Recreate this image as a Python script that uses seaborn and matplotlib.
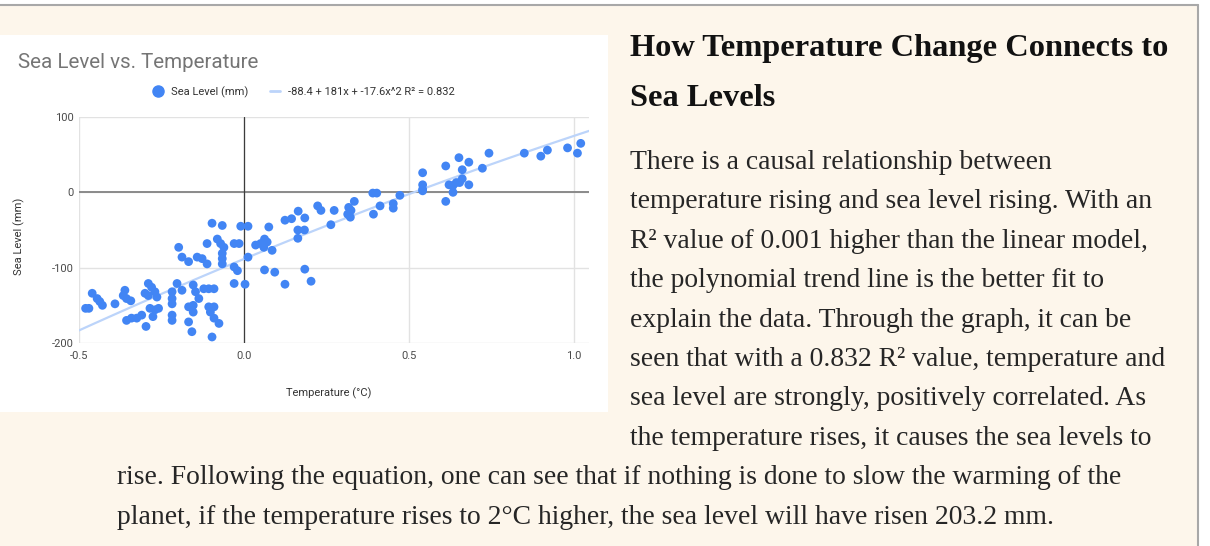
"""Sea level vs temperature: chart card with text column"""
import numpy as np
import pandas as pd
import seaborn as sns
import matplotlib.pyplot as plt
from matplotlib.lines import Line2D
from matplotlib.patches import Rectangle

W, H = 1210, 546
CREAM, BORDER = '#fdf6eb', '#a8a8a8'
BLUE, LINE_BLUE = '#4285f4', '#bcd4fa'
GRID, TICK = '#e2e2e2', '#4a4a4a'

# data
temp = [-0.480, -0.470, -0.460, -0.445, -0.437, -0.429, -0.391, -0.361, -0.366, -0.356,
        -0.343, -0.356, -0.341, -0.325, -0.310, -0.297, -0.290, -0.280, -0.270, -0.264,
        -0.300, -0.290, -0.285, -0.270, -0.259, -0.276, -0.218, -0.218, -0.218, -0.218,
        -0.218, -0.198, -0.188, -0.168, -0.203, -0.188, -0.154, -0.147, -0.137, -0.154,
        -0.168, -0.154, -0.168, -0.158, -0.142, -0.127, -0.112, -0.112, -0.122, -0.107,
        -0.091, -0.107, -0.091, -0.102, -0.091, -0.076, -0.097, -0.097, -0.066, -0.081,
        -0.071, -0.061, -0.066, -0.066, -0.066, -0.030, -0.015, -0.030, -0.020, -0.030,
        -0.010, 0.012, 0.012, 0.003, 0.035, 0.050, 0.062, 0.060, 0.070, 0.085,
        0.075, 0.062, 0.093, 0.124, 0.144, 0.124, 0.164, 0.184, 0.163, 0.183,
        0.163, 0.184, 0.203, 0.223, 0.233, 0.273, 0.263, 0.314, 0.324, 0.334,
        0.322, 0.317, 0.390, 0.402, 0.392, 0.412, 0.452, 0.452, 0.472, 0.541,
        0.541, 0.541, 0.541, 0.611, 0.611, 0.621, 0.633, 0.643, 0.653, 0.661,
        0.633, 0.651, 0.661, 0.681, 0.681, 0.722, 0.742, 0.849, 0.899, 0.919,
        0.980, 1.010, 1.020]
sea = [-154, -154, -134, -141, -145, -150, -148, -130, -137, -141,
       -144, -170, -167, -167, -163, -178, -121, -126, -132, -139,
       -134, -137, -154, -156, -154, -165, -132, -141, -148, -163,
       -170, -73, -86, -92, -121, -130, -123, -132, -141, -150,
       -152, -159, -172, -185, -86, -88, -95, -68, -128, -128,
       -128, -152, -152, -159, -167, -174, -192, -41, -44, -62,
       -68, -73, -81, -88, -95, -68, -68, -99, -104, -121,
       -45, -45, -86, -122, -70, -68, -62, -73, -66, -77,
       -46, -103, -106, -37, -35, -122, -25, -34, -50, -50,
       -61, -102, -118, -18, -24, -24, -43, -29, -24, -12,
       -33, -20, -1, -1, -29, -18, -15, -21, -4, 26,
       10, 4, 2, 35, -12, 10, 9, 13, 13, 18,
       0, 46, 30, 40, 10, 32, 52, 52, 48, 56,
       59, 52, 65]
trend_coef = [-88.4, 181, -17.6]          # c0 + c1 x + c2 x^2
trend_label = '-88.4 + 181x + -17.6x^2 R\u00b2 = 0.832'
xticks = [-0.5, 0.0, 0.5, 1.0]
xticklabels = ['-0.5', '0.0', '0.5', '1.0']
yticks = [-200, -100, 0, 100]

heading = ['How Temperature Change Connects to', 'Sea Levels']
column_lines = [
    'There is a causal relationship between',
    'temperature rising and sea level rising. With an',
    'R\u00b2 value of 0.001 higher than the linear model,',
    'the polynomial trend line is the better fit to',
    'explain the data. Through the graph, it can be',
    'seen that with a 0.832 R\u00b2 value, temperature and',
    'sea level are strongly, positively correlated. As',
    'the temperature rises, it causes the sea levels to',
]
wide_lines = [
    'rise. Following the equation, one can see that if nothing is done to slow the warming of the',
    'planet, if the temperature rises to 2\u00b0C higher, the sea level will have risen 203.2 mm.',
]

sns.set_theme(style='white')
plt.rcParams['font.family'] = ['Roboto', 'DejaVu Sans']
plt.rcParams['axes.unicode_minus'] = False

fig = plt.figure(figsize=(W / 100, H / 100), dpi=100, facecolor='white')
R = fig.canvas.get_renderer()


def fx(x):
    return x / W


def fy(y):
    return 1 - y / H


def fit(t, width_px):
    w = t.get_window_extent(renderer=R).width
    t.set_fontsize(t.get_fontsize() * width_px / w)
    return t.get_fontsize()


# page card
fig.add_artist(Rectangle((0, 0), fx(1198), fy(5), transform=fig.transFigure,
                         facecolor=CREAM, edgecolor='none', zorder=-3))
fig.add_artist(Line2D([0, fx(1198)], [fy(5), fy(5)], transform=fig.transFigure,
                      color=BORDER, lw=1.5, zorder=-2))
fig.add_artist(Line2D([fx(1198), fx(1198)], [0, fy(5)], transform=fig.transFigure,
                      color=BORDER, lw=1.5, zorder=-2))
fig.add_artist(Rectangle((0, fy(412)), fx(608), (412 - 35) / H, transform=fig.transFigure,
                         facecolor='white', edgecolor='none', zorder=-1))

# chart
ax = fig.add_axes([fx(79), fy(343), 510 / W, 226 / H])
ax.set_facecolor('white')
df = pd.DataFrame({'Temperature (°C)': temp, 'Sea Level (mm)': sea})
xmax = 1.045
line_x = np.linspace(-0.5, xmax, 60)
line_y = np.polynomial.polynomial.polyval(line_x, trend_coef)
sns.lineplot(x=line_x, y=line_y, ax=ax, color=LINE_BLUE, lw=1.6, zorder=2)
sns.scatterplot(data=df, x='Temperature (°C)', y='Sea Level (mm)', ax=ax,
                color=BLUE, s=40, edgecolor='none', linewidth=0, zorder=3)

ax.set_xlim(-0.5, xmax)
ax.set_ylim(-200, 100)
ax.set_xticks(xticks, xticklabels)
ax.set_yticks(yticks)
ax.grid(True, color=GRID, lw=1, zorder=0)
ax.axhline(0, color='#8a8a8a', lw=1.4, zorder=1)
ax.axvline(0, color='#3c3c3c', lw=0.9, zorder=1)
for sp in ax.spines.values():
    sp.set_visible(False)
ax.tick_params(axis='both', length=0, labelsize=8, colors=TICK)
ax.tick_params(axis='x', pad=6)
ax.tick_params(axis='y', pad=4)
ax.set_xlabel('Temperature (°C)', fontsize=8, color='#333333')
ax.set_ylabel('Sea Level (mm)', fontsize=8, color='#333333')
ax.xaxis.set_label_coords(0.49, -0.195)
ax.yaxis.set_label_coords(-0.106, 0.47)

handles = [Line2D([], [], marker='o', ls='', color=BLUE, markersize=8, label='Sea Level (mm)'),
           Line2D([], [], color=LINE_BLUE, lw=2, label=trend_label)]
ax.legend(handles=handles, ncol=2, loc='center', bbox_to_anchor=(0.441, 1.11),
          frameon=False, fontsize=8, handlelength=0.9, handletextpad=0.7,
          columnspacing=2.0, labelcolor='#333333')

t = fig.text(fx(18), fy(63), 'Sea Level vs. Temperature', va='center', ha='left',
             color='#757575', fontsize=13)
fit(t, 240)

# text column
serif = ['Liberation Serif', 'DejaVu Serif']
h0 = fig.text(fx(630), fy(56), heading[0], family=serif, fontweight='bold',
              color='#111111', fontsize=20, va='baseline')
hs = fit(h0, 538)
fig.text(fx(630), fy(106), heading[1], family=serif, fontweight='bold',
         color='#111111', fontsize=hs, va='baseline')

b0 = fig.text(fx(117), fy(169 + 8 * 39.4), wide_lines[0], family=serif,
              color='#262626', fontsize=17, va='baseline')
bs = fit(b0, 1003)
fig.text(fx(117), fy(169 + 9 * 39.4), wide_lines[1], family=serif,
         color='#262626', fontsize=bs, va='baseline')
for i, line in enumerate(column_lines):
    fig.text(fx(630), fy(169 + i * 39.4), line, family=serif,
             color='#262626', fontsize=bs, va='baseline')

fig.savefig('out.png', dpi=100, facecolor='white')
